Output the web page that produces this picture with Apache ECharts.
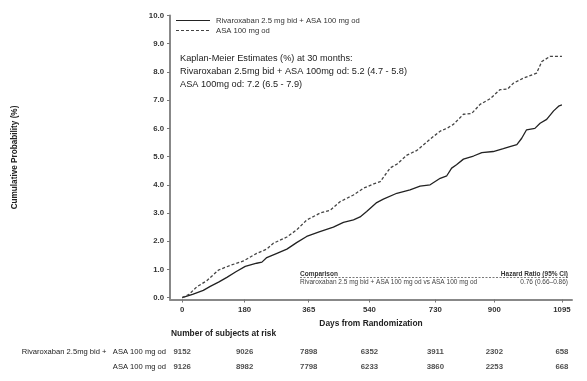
<!DOCTYPE html>
<html><head><meta charset="utf-8">
<script src="https://cdn.jsdelivr.net/npm/echarts@6/dist/echarts.min.js"></script>
<style>html,body{margin:0;padding:0;background:#fff}#c{width:587px;height:381px}</style>
</head><body><div id="c"></div>
<script>
// Tick positions (days)
var xTicks = [0, 180, 365, 540, 730, 900, 1095];
var yTicks = [0, 1, 2, 3, 4, 5, 6, 7, 8, 9, 10];
var seriesNames = ['Rivaroxaban 2.5 mg bid + ASA 100 mg od', 'ASA 100 mg od'];
// Kaplan-Meier curves [day, cumulative %]
var rivaCurve = [[0,0],[30,0.12],[61,0.26],[81,0.40],[105,0.55],[129,0.72],[155,0.92],[182,1.11],[215,1.22],[230,1.26],[244,1.42],[275,1.58],[302,1.72],[330,1.95],[359,2.17],[395,2.33],[436,2.50],[465,2.67],[494,2.76],[513,2.86],[532,3.05],[561,3.37],[580,3.49],[619,3.70],[657,3.82],[686,3.95],[715,4.00],[744,4.23],[763,4.32],[777,4.59],[791,4.71],[811,4.91],[840,5.02],[864,5.14],[897,5.18],[926,5.28],[945,5.35],[965,5.42],[979,5.65],[993,5.95],[1017,6.00],[1032,6.18],[1051,6.32],[1071,6.62],[1087,6.80],[1095,6.83]];
var asaCurve = [[0,0],[20,0.12],[42,0.38],[71,0.60],[105,0.98],[140,1.15],[177,1.30],[215,1.57],[244,1.72],[263,1.93],[302,2.15],[330,2.40],[359,2.75],[398,3.00],[427,3.10],[455,3.40],[494,3.64],[523,3.88],[552,4.03],[571,4.11],[600,4.60],[619,4.73],[648,5.05],[677,5.22],[715,5.62],[744,5.90],[763,6.00],[782,6.14],[811,6.50],[835,6.53],[859,6.85],[888,7.05],[916,7.37],[938,7.39],[955,7.60],[984,7.78],[1022,7.96],[1037,8.37],[1061,8.55],[1095,8.55]];
// Number at risk
var riskDays = [0, 180, 365, 540, 730, 900, 1095];
var rivaRisk = [9152, 9026, 7898, 6352, 3911, 2302, 658];
var asaRisk = [9126, 8982, 7798, 6233, 3860, 2253, 668];
var riskRows = ['Rivaroxaban 2.5mg bid +   ASA 100 mg od', 'ASA 100 mg od'];

var FONT = 'Liberation Sans, Arial, sans-serif';
var riskData = [];
riskDays.forEach(function (d, i) {
  riskData.push([d, 0, rivaRisk[i]]);
  riskData.push([d, 1, asaRisk[i]]);
});

var chart = echarts.init(document.getElementById('c'));
chart.setOption({
  animation: false,
  textStyle: { fontFamily: FONT },
  grid: [
    { left: 170, right: 15, top: 15.5, bottom: 81.5 },
    { left: 170, right: 15, top: 344, height: 30 }
  ],
  xAxis: [{
    type: 'value', min: -35, max: 1124, gridIndex: 0,
    name: 'Days from Randomization', nameLocation: 'middle', nameGap: 20,
    nameTextStyle: { fontSize: 8.4, fontWeight: 'bold', color: '#222' },
    axisLine: { onZero: false, lineStyle: { color: '#888', width: 2 } },
    axisTick: { show: true, length: 3, customValues: xTicks, lineStyle: { color: '#777' } },
    axisLabel: { customValues: xTicks, fontSize: 7.8, fontWeight: 'bold', color: '#333', margin: 6,
      formatter: function (v) { return String(v); } },
    splitLine: { show: false }
  }, {
    type: 'value', min: -35, max: 1124, gridIndex: 1, show: false
  }],
  yAxis: [{
    type: 'value', min: -0.065, max: 10, gridIndex: 0,
    name: 'Cumulative Probability (%)', nameLocation: 'middle', nameGap: 151, nameRotate: 90,
    nameTextStyle: { fontSize: 8.2, fontWeight: 'bold', color: '#222' },
    axisLine: { show: true, onZero: false, lineStyle: { color: '#888', width: 2 } },
    axisTick: { show: true, length: 3, customValues: yTicks, lineStyle: { color: '#777' } },
    axisLabel: { customValues: yTicks, fontSize: 7.8, fontWeight: 'bold', color: '#333', margin: 6,
      formatter: function (v) { return Math.abs(v) < 1e-9 ? '0.0' : Number(v).toFixed(1); } },
    splitLine: { show: false }
  }, {
    type: 'category', gridIndex: 1, inverse: true, data: riskRows,
    axisLine: { show: false }, axisTick: { show: false },
    axisLabel: { fontSize: 7.6, color: '#222', margin: 4 }
  }],
  series: [{
    name: seriesNames[0], type: 'line', xAxisIndex: 0, yAxisIndex: 0, data: rivaCurve,
    symbol: 'none', lineStyle: { color: '#222', width: 1.3, type: 'solid' }
  }, {
    name: seriesNames[1], type: 'line', xAxisIndex: 0, yAxisIndex: 0, data: asaCurve,
    symbol: 'none', lineStyle: { color: '#444', width: 1.3, type: [3, 2] }
  }, {
    type: 'scatter', xAxisIndex: 1, yAxisIndex: 1, data: riskData, symbolSize: 0.1,
    label: { show: true, position: 'inside', fontSize: 7.8, fontWeight: 'bold', color: '#222',
      formatter: function (p) { return String(p.value[2]); } }
  }],
  graphic: [
    { type: 'line', shape: { x1: 176, y1: 20.5, x2: 210, y2: 20.5 }, style: { stroke: '#222', lineWidth: 1.2 } },
    { type: 'text', left: 216, top: 16.5, style: { text: seriesNames[0], fontSize: 7.7, fill: '#333', fontFamily: FONT } },
    { type: 'line', shape: { x1: 176, y1: 30.5, x2: 210, y2: 30.5 }, style: { stroke: '#444', lineWidth: 1.2, lineDash: [3, 2] } },
    { type: 'text', left: 216, top: 26.5, style: { text: seriesNames[1], fontSize: 7.7, fill: '#333', fontFamily: FONT } },
    { type: 'text', left: 180, top: 51.5, style: { text: 'Kaplan-Meier Estimates (%) at 30 months:\nRivaroxaban 2.5mg bid + ASA 100mg od: 5.2 (4.7 - 5.8)\nASA 100mg od: 7.2 (6.5 - 7.9)', fontSize: 9.2, lineHeight: 13, fill: '#222', fontFamily: FONT } },
    { type: 'text', left: 300, top: 271, style: { text: 'Comparison', fontSize: 6.5, fontWeight: 'bold', fill: '#333', fontFamily: FONT } },
    { type: 'text', right: 19, top: 271, style: { text: 'Hazard Ratio (95% CI)', fontSize: 6.5, fontWeight: 'bold', fill: '#333', fontFamily: FONT } },
    { type: 'line', shape: { x1: 300, y1: 277.5, x2: 568, y2: 277.5 }, style: { stroke: '#555', lineWidth: 0.8, lineDash: [2, 1.5] } },
    { type: 'text', left: 300, top: 279, style: { text: 'Rivaroxaban 2.5 mg bid + ASA 100 mg od vs ASA 100 mg od', fontSize: 6.5, fill: '#444', fontFamily: FONT } },
    { type: 'text', right: 19, top: 279, style: { text: '0.76 (0.66\u20130.86)', fontSize: 6.5, fill: '#444', fontFamily: FONT } },
    { type: 'text', left: 171, top: 330, style: { text: 'Number of subjects at risk', fontSize: 8.4, fontWeight: 'bold', fill: '#222', fontFamily: FONT } }
  ]
});
</script></body></html>
